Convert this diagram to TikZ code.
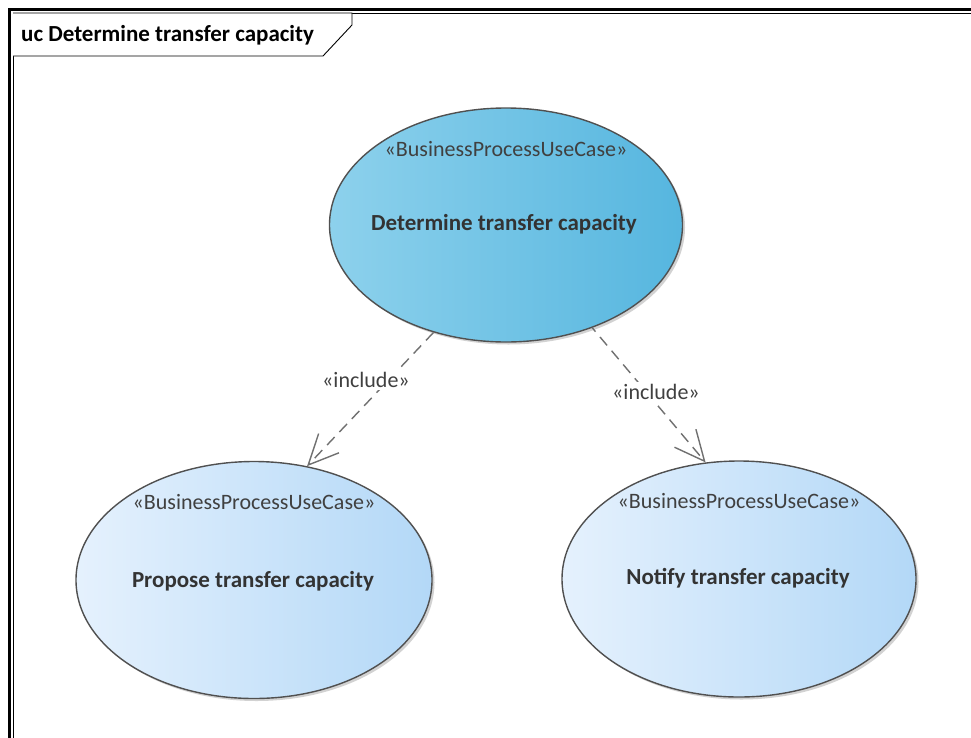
\documentclass[tikz,border=0pt]{standalone}
\usepackage{fontspec}
\setmainfont{Carlito}
\usepackage{tikz}
\usetikzlibrary{arrows.meta,shapes.geometric,shadows}
\definecolor{ucdark}{HTML}{56B6DF}
\definecolor{uclight}{HTML}{8DD1EC}
\definecolor{subdark}{HTML}{B3D8F7}
\definecolor{sublight}{HTML}{E5F1FD}
\definecolor{ucline}{HTML}{505050}
\definecolor{inclgray}{HTML}{707070}
\tikzstyle{dedge} = [draw,inclgray,line width=1.4pt,dash pattern=on 11pt off 7pt,-{Straight Barb[length=30pt,width=28pt,line width=1.4pt]}]
\tikzset{
  casenode/.style = {ellipse, draw=ucline, line width=1.4pt, inner sep=0pt,
    drop shadow={shadow xshift=2.5pt, shadow yshift=-2.5pt, opacity=0.35}},
  bizcase/.style = {casenode, left color=uclight, right color=ucdark},% cas principal
  subcase/.style = {casenode, left color=sublight, right color=subdark},% cas inclus
  casename/.style = {inner sep=0pt, font=\fontsize{23}{27}\selectfont\bfseries, text=black!80},
  stereo/.style = {inner sep=0pt, font=\fontsize{22}{26}\selectfont, text=black!75},
  incl/.style = {stereo, fill=white, inner sep=2pt},
}

\begin{document}
\begin{tikzpicture}[x=1pt,y=-1pt]
                    \useasboundingbox (0,0) rectangle (971,737);
                    \clip (0,0) rectangle (971,737);
                    \fill[white] (0,0) rectangle (971,737);

                    % frame
                    \draw[line width=2.5pt] (9.5,760) -- (9.5,9.5) -- (990,9.5);
                    \draw[line width=0.9pt] (13,760) -- (13,13) -- (990,13);
                    \draw[line width=0.9pt,fill=white] (13,13) -- (352,13) -- (352,25) -- (323,56) -- (13,56);
                    \node[anchor=west, inner sep=0pt, font=\fontsize{23}{27}\selectfont\bfseries] (frametitle) at (21,35) {uc Determine transfer capacity};

                    \node[bizcase, minimum width=353pt, minimum height=234pt] (det) at (506,225) {};
                    \node[subcase, minimum width=356pt, minimum height=237pt] (propose) at (254,580) {};
                    \node[subcase, minimum width=354pt, minimum height=236pt] (notify) at (739,579) {};

                    \node[stereo] (detst) at (506,149) {«BusinessProcessUseCase»};
                    \node[stereo] (propst) at (254,502) {«BusinessProcessUseCase»};
                    \node[stereo] (notst) at (739,501) {«BusinessProcessUseCase»};

                    \node[casename] (detname) at (504,224) {Determine transfer capacity};
                    \node[casename] (propname) at (253,581) {Propose transfer capacity};
                    \node[casename] (notname) at (738,578) {Notify transfer capacity};

                    \path[dedge] (det.236) -- (propose.65);
                    \path[dedge, dash phase=6pt] (det.310) -- (notify.106);

                    \node[incl] (incla) at (366,380) {«include»};
                    \node[incl] (inclb) at (656,392) {«include»};
                \end{tikzpicture}
\end{document}
